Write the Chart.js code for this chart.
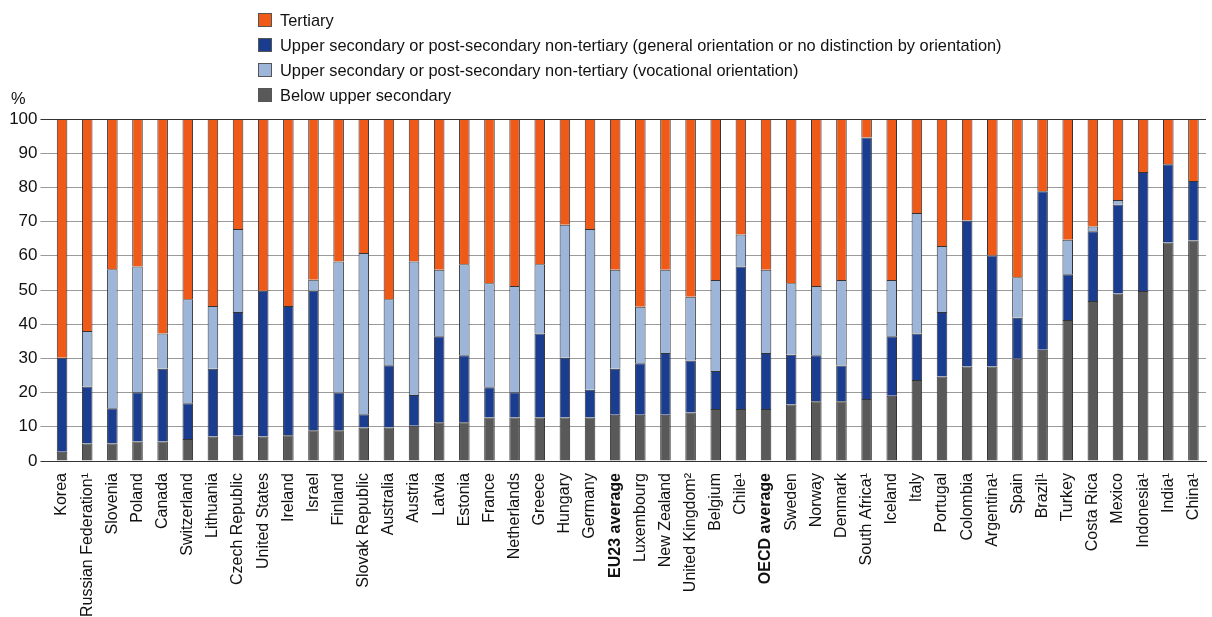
<!DOCTYPE html>
<html>
<head>
<meta charset="utf-8">
<script src="https://cdn.jsdelivr.net/npm/chart.js@4.4.1/dist/chart.umd.min.js"></script>
<style>
  html, body { margin: 0; padding: 0; background: #fff; }
  #wrap { width: 1212px; height: 617px; position: relative; }
</style>
</head>
<body>
<div id="wrap"><canvas id="c" width="1212" height="617"></canvas></div>
<script>
const categories = ["Korea","Russian Federation\u00B9","Slovenia","Poland","Canada","Switzerland","Lithuania","Czech Republic","United States","Ireland","Israel","Finland","Slovak Republic","Australia","Austria","Latvia","Estonia","France","Netherlands","Greece","Hungary","Germany","EU23 average","Luxembourg","New Zealand","United Kingdom\u00B2","Belgium","Chile\u00B9","OECD average","Sweden","Norway","Denmark","South Africa\u00B9","Iceland","Italy","Portugal","Colombia","Argentina\u00B9","Spain","Brazil\u00B9","Turkey","Costa Rica","Mexico","Indonesia\u00B9","India\u00B9","China\u00B9"];

const belowUpperSecondary = [2.7,5.1,5.1,5.7,5.7,6.4,7.2,7.4,7.2,7.5,9.0,9.0,9.8,9.8,10.3,11.3,11.3,12.7,12.7,12.7,12.7,12.7,13.5,13.5,13.5,14.2,15.2,15.2,15.2,16.5,17.5,17.5,18.1,19.1,23.7,24.7,27.6,27.6,29.9,32.5,41.2,46.8,49.0,49.7,63.9,64.5];
const upperGeneral = [27.5,16.7,10.3,14.4,21.3,10.5,19.8,36.2,42.6,37.8,40.8,11.0,3.9,18.2,9.0,25.2,19.6,8.9,7.4,24.6,17.5,8.1,13.5,15.1,18.1,15.2,11.1,41.7,16.4,14.6,13.4,10.4,76.5,17.4,13.6,18.9,42.7,32.5,12.0,46.4,13.4,20.4,26.0,34.8,22.9,17.4];
const upperVocational = [0,16.2,40.7,36.8,10.3,30.4,18.3,24.2,0,0,3.2,38.3,47.1,19.3,39.0,19.4,26.6,30.4,31.1,20.2,38.9,47.0,28.9,16.5,24.3,18.6,26.6,9.3,24.3,20.9,20.3,25.0,0,16.4,35.2,19.3,0,0,11.8,0,10.1,1.4,1.3,0,0,0];
const tertiary = [69.8,62.0,43.9,43.1,62.7,52.7,54.7,32.2,50.2,54.7,47.0,41.7,39.2,52.7,41.7,44.1,42.5,48.0,48.8,42.5,30.9,32.2,44.1,54.9,44.1,52.0,47.1,33.8,44.1,48.0,48.8,47.1,5.4,47.1,27.5,37.1,29.7,39.9,46.3,21.1,35.3,31.4,23.7,15.5,13.2,18.1];

const yTicks = [0,10,20,30,40,50,60,70,80,90,100];

const seriesLabels = {
  tertiary: "Tertiary",
  general: "Upper secondary or post-secondary non-tertiary (general orientation or no distinction by orientation)",
  vocational: "Upper secondary or post-secondary non-tertiary (vocational orientation)",
  below: "Below upper secondary"
};

const FONT = "'Liberation Sans', Arial, sans-serif";
const colors = { below: "#595959", general: "#1B3D8F", vocational: "#9DB5D9", tertiary: "#EF5A19" };

const legendPlugin = {
  id: 'customLegend',
  afterDraw(chart) {
    const ctx = chart.ctx;
    const order = [3, 1, 2, 0];
    ctx.save();
    ctx.font = "16.4px " + FONT;
    ctx.textBaseline = "middle";
    order.forEach((di, i) => {
      const ds = chart.data.datasets[di];
      const cy = 20 + i * 25;
      ctx.fillStyle = ds.backgroundColor;
      ctx.fillRect(258, cy - 7, 14, 14);
      ctx.strokeStyle = "#555";
      ctx.lineWidth = 1;
      ctx.strokeRect(258.5, cy - 6.5, 13, 13);
      ctx.fillStyle = "#111";
      ctx.fillText(ds.label, 280, cy + 1);
    });
    ctx.fillText("%", 11, 99);
    ctx.restore();
  }
};

const mk = (label, data, color) => ({
  label, data, backgroundColor: color, borderColor: "#333", borderWidth: 1,
  barPercentage: 0.42, categoryPercentage: 1.0
});

new Chart(document.getElementById('c'), {
  type: 'bar',
  data: {
    labels: categories,
    datasets: [
      mk(seriesLabels.below, belowUpperSecondary, colors.below),
      mk(seriesLabels.general, upperGeneral, colors.general),
      mk(seriesLabels.vocational, upperVocational, colors.vocational),
      mk(seriesLabels.tertiary, tertiary, colors.tertiary)
    ]
  },
  options: {
    responsive: false,
    animation: false,
    layout: { padding: { top: 119, right: 6, left: 0, bottom: 0 } },
    plugins: { legend: { display: false }, tooltip: { enabled: false } },
    scales: {
      x: {
        stacked: true,
        grid: { display: false },
        border: { display: true, color: "#333", width: 1 },
        ticks: {
          autoSkip: false, minRotation: 90, maxRotation: 90, padding: 4,
          color: "#111",
          font: (c) => ({ family: FONT, size: 16, weight: (categories[c.index] || "").includes("average") ? "bold" : "normal" })
        },
        afterFit(scale) { scale.height = 156; scale.paddingLeft = 0; scale.paddingRight = 0; }
      },
      y: {
        stacked: true, min: 0, max: 100,
        afterBuildTicks(scale) { scale.ticks = yTicks.map(v => ({ value: v })); },
        grid: {
          color: (c) => (c.tick && (c.tick.value === 0 || c.tick.value === 100)) ? "#333" : "#9a9a9a",
          tickColor: (c) => (c.tick && (c.tick.value === 0 || c.tick.value === 100)) ? "#333" : "#9a9a9a",
          tickLength: 9, lineWidth: 1
        },
        border: { display: false },
        ticks: { color: "#111", padding: 3, font: { family: FONT, size: 17 } },
        afterFit(scale) { scale.width = 49.5; scale.paddingTop = 0; scale.paddingBottom = 0; }
      }
    }
  },
  plugins: [legendPlugin]
});
</script>
</body>
</html>
